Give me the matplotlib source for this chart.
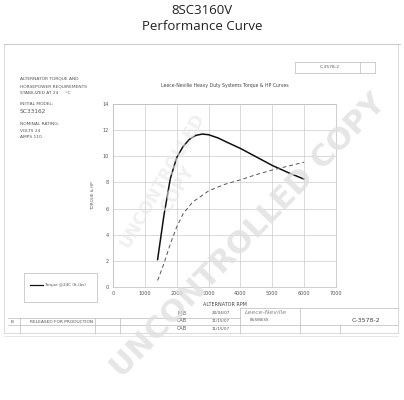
import matplotlib.pyplot as plt
import numpy as np

# Torque curve (solid) and HP curve (dashed)
rpm_torque = [1400, 1600, 1800, 2000, 2200, 2400, 2600, 2800, 3000, 3300, 3600, 4000, 4500, 5000, 5500, 6000]
torque = [2.1, 5.5, 8.3, 9.9, 10.75, 11.3, 11.6, 11.7, 11.65, 11.4, 11.05, 10.6, 9.95, 9.3, 8.75, 8.25]
rpm_hp = [1400, 1600, 1800, 2000, 2200, 2500, 3000, 3500, 4000, 4500, 5000, 5500, 6000]
hp = [0.5, 1.8, 3.3, 4.6, 5.6, 6.5, 7.35, 7.85, 8.2, 8.6, 8.95, 9.25, 9.55]
x_ticks = [0, 1000, 2000, 3000, 4000, 5000, 6000, 7000]
y_ticks = [0, 2, 4, 6, 8, 10, 12, 14]

fig = plt.figure(figsize=(4.04, 4.0), dpi=100)
W, H = 404, 400

def fx(px):
    return px / W

def fy(py):
    return 1 - py / H

def hline(x0, x1, y, lw=0.5, c="#bbbbbb"):
    fig.add_artist(plt.Line2D([fx(x0), fx(x1)], [fy(y), fy(y)], lw=lw, color=c))

def vline(x, y0, y1, lw=0.5, c="#bbbbbb"):
    fig.add_artist(plt.Line2D([fx(x), fx(x)], [fy(y0), fy(y1)], lw=lw, color=c))

def txt(x, y, s, size=3.2, **kw):
    fig.text(fx(x), fy(y), s, fontsize=size, color=kw.pop("color", "#555555"), va="center", **kw)

# titles
fig.text(0.5, fy(10), "8SC3160V", ha="center", va="center", fontsize=9.5, color="#222222", family="Open Sans")
fig.text(0.5, fy(27), "Performance Curve", ha="center", va="center", fontsize=9.5, color="#222222", family="Open Sans")

# drawing frame
hline(4, 400, 44, lw=0.8, c="#cccccc")
vline(4, 44, 333, c="#cccccc")
vline(398, 44, 333, c="#cccccc")
hline(4, 398, 333, c="#cccccc")
hline(4, 398, 336, c="#dddddd")

# top-right small box
hline(295, 375, 62)
hline(295, 375, 73)
vline(295, 62, 73)
vline(375, 62, 73)
vline(360, 62, 73)
txt(320, 67.5, "C-3578-2", size=3.2)

# left text block
txt(20, 79, "ALTERNATOR TORQUE AND")
txt(20, 86, "HORSEPOWER REQUIREMENTS")
txt(20, 93, "STABILIZED AT 24     \u00b0C")
txt(20, 104, "INITIAL MODEL:")
txt(20, 111, "SC33162", size=4.2)
txt(20, 124, "NOMINAL RATING:")
txt(20, 131, "VOLTS 24")
txt(20, 137, "AMPS 110")

# main axes
ax = fig.add_axes([fx(113), fy(287), fx(336) - fx(113), fy(104) - fy(287)])
ax.plot(rpm_torque, torque, color="#111111", lw=1.1, label="Torque @24C (ft-lbs)")
ax.plot(rpm_hp, hp, color="#555555", lw=0.7, ls=(0, (4, 3)))
ax.set_xlim(0, 7000)
ax.set_ylim(0, 14)
ax.set_xticks(x_ticks)
ax.set_yticks(y_ticks)
ax.tick_params(labelsize=3.5, length=0, pad=3, colors="#555555")
ax.grid(True, color="#cccccc", lw=0.5)
for s in ax.spines.values():
    s.set_color("#bbbbbb")
    s.set_linewidth(0.5)
ax.set_xlabel("ALTERNATOR RPM", fontsize=3.5, color="#444444", labelpad=4)
ax.set_ylabel("TORQUE & HP", fontsize=3, color="#555555", labelpad=6)
fig.text(fx(225), fy(85), "Leece-Neville Heavy Duty Systems Torque & HP Curves",
         ha="center", va="center", fontsize=3.3, color="#444444")

# legend box
hline(24, 97, 273)
hline(24, 97, 302)
vline(24, 273, 302)
vline(97, 273, 302)
fig.add_artist(plt.Line2D([fx(30), fx(43)], [fy(285), fy(285)], lw=0.9, color="#111111"))
txt(44, 285, "Torque @24C (ft-lbs)", size=3)

# bottom title block
hline(8, 240, 318)
hline(8, 398, 325)
hline(240, 398, 308)
vline(240, 308, 333)
vline(300, 308, 333)
vline(340, 325, 333)
vline(20, 318, 333)
vline(95, 318, 333)
vline(120, 318, 333)
txt(11, 322, "B")
txt(30, 322, "RELEASED FOR PRODUCTION")
txt(177, 313, "MJB", size=3.5)
txt(177, 321, "CAB", size=3.5)
txt(177, 329, "CAB", size=3.5)
txt(212, 313, "20/04/07", size=3)
txt(212, 321, "11/15/07", size=3)
txt(212, 329, "11/15/07", size=3)
txt(245, 312, "Leece-Neville", size=4.5, color="#888888", style="italic")
txt(250, 320, "BUSINESS", size=2.8)
txt(352, 320, "C-3578-2", size=4.5, color="#444444")

# watermark
fig.text(fx(248), fy(236), "UNCONTROLLED COPY", rotation=46, ha="center", va="center",
         fontsize=22, fontweight="bold", color="#e0e0e0", alpha=0.8)
fig.text(fx(170), fy(185), "UNCONTROLLED\nCOPY", rotation=60, ha="center", va="center",
         fontsize=12, fontweight="bold", color="#e6e6e6", alpha=0.6, linespacing=1.0)

fig.savefig("out.png", dpi=100)
